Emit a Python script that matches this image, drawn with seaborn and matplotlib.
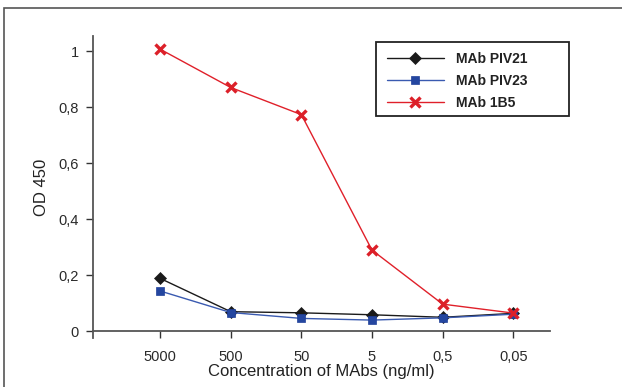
import matplotlib
matplotlib.use("Agg")
import matplotlib.pyplot as plt
from matplotlib.patches import Rectangle
import seaborn as sns
import pandas as pd

concentrations = ["5000", "500", "50", "5", "0,5", "0,05"]
piv21 = [0.188, 0.069, 0.065, 0.058, 0.049, 0.063]
piv23 = [0.143, 0.066, 0.045, 0.039, 0.047, 0.060]
mab1b5 = [1.007, 0.870, 0.773, 0.289, 0.096, 0.064]
series_names = ["MAb PIV21", "MAb PIV23", "MAb 1B5"]
y_ticks = [0, 0.2, 0.4, 0.6, 0.8, 1.0]
y_tick_labels = ["0", "0,2", "0,4", "0,6", "0,8", "1"]

sns.set_style("white")
plt.rcParams["font.family"] = ["Liberation Sans", "DejaVu Sans"]

fig = plt.figure(figsize=(6.22, 3.87), dpi=100)
ax = fig.add_axes([93 / 622, (387 - 338) / 387, 457 / 622, 302 / 387])

styles = [
    dict(marker="D", markersize=6.5, markeredgewidth=0.5, mfc="#1a1a1a", mec="#1a1a1a"),
    dict(marker="s", markersize=6, markeredgewidth=0.5, mfc="#2446a0", mec="#1f3f99"),
    dict(marker="x", markersize=6.5, markeredgewidth=2.4, mfc="#dc2029", mec="#dc2029"),
]
line_colors = ["#1a1a1a", "#3a5ab0", "#e0202a"]

for name, vals, st, lc in zip(series_names, [piv21, piv23, mab1b5], styles, line_colors):
    df = pd.DataFrame({"x": range(len(concentrations)), "y": vals})
    sns.lineplot(data=df, x="x", y="y", ax=ax, color=lc, linewidth=1.0,
                 marker=st["marker"], markersize=st["markersize"],
                 markerfacecolor=st["mfc"], markeredgecolor=st["mec"],
                 markeredgewidth=st["markeredgewidth"], label=name)

ax.set_xlim(-0.95, 5.52)
ax.set_ylim(-0.025, 1.054)
ax.set_xticks(range(len(concentrations)))
ax.set_xticklabels(concentrations)
ax.set_yticks(y_ticks)
ax.set_yticklabels(y_tick_labels)

for s in ["top", "right"]:
    ax.spines[s].set_visible(False)
ax.spines["bottom"].set_position(("data", 0))
for s in ["left", "bottom"]:
    ax.spines[s].set_color("#555555")
    ax.spines[s].set_linewidth(1.3)

ax.tick_params(axis="both", which="both", direction="out", length=5, width=1.0,
               color="#333333", labelsize=10.5, labelcolor="#2a2a2a")
ax.tick_params(axis="x", bottom=True, pad=9)
ax.tick_params(axis="y", left=True, pad=5)

ax.set_xlabel("Concentration of MAbs (ng/ml)", fontsize=12, color="#222222", labelpad=0)
ax.set_ylabel("OD 450", fontsize=12, color="#222222", labelpad=7)

leg = ax.legend(loc="upper left", bbox_to_anchor=(387 / 622, 1 - 52 / 387),
                bbox_transform=fig.transFigure,
                frameon=False, prop={"weight": "bold", "size": 10},
                handlelength=4.1, borderpad=0, labelspacing=0.58, handletextpad=0.86,
                borderaxespad=0)
for t in leg.get_texts():
    t.set_color("#222222")

fig.add_artist(Rectangle((376 / 622, 1 - 116 / 387), 193 / 622, 74 / 387,
                         transform=fig.transFigure, fill=False,
                         edgecolor="#222222", linewidth=1.3))

fig.add_artist(Rectangle((4 / 622, -0.1), 1.0, 1 - 8 / 387 + 0.1, transform=fig.transFigure,
                         fill=False, edgecolor="#555555", linewidth=1.2))

fig.savefig("out.png", dpi=100, facecolor="white")
